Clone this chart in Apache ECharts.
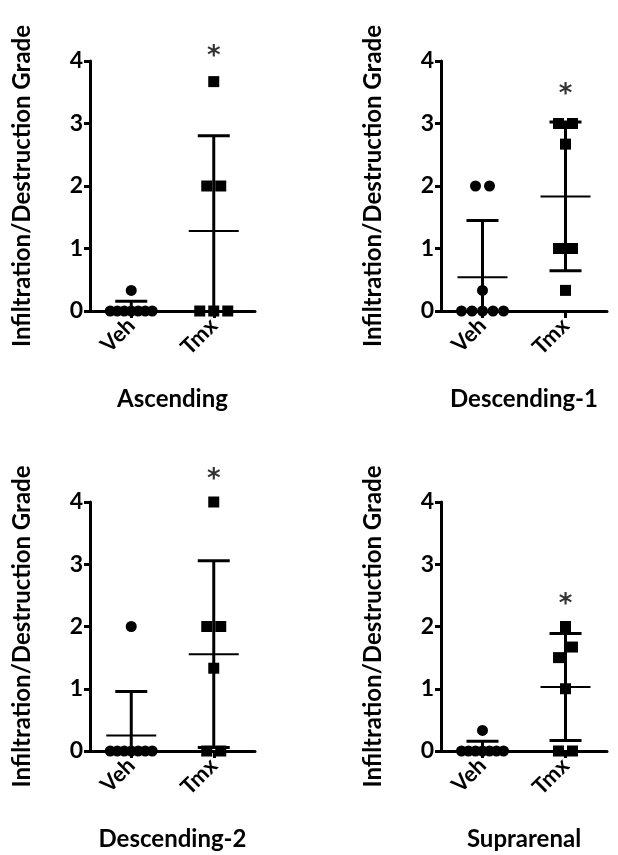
<!DOCTYPE html>
<html>
<head>
<meta charset="utf-8">
<script src="https://cdn.jsdelivr.net/npm/echarts@6/dist/echarts.min.js"></script>
<style>
html,body{margin:0;padding:0;background:#fff;}
#chart{width:618px;height:855px;}
</style>
</head>
<body>
<div id="chart"></div>
<script>
// ---- data ----
const categories = ['Veh', 'Tmx'];
const panelTitles = ['Ascending', 'Descending-1', 'Descending-2', 'Suprarenal'];
const yAxisTitle = 'Infiltration/Destruction Grade';
const yTicks = [0, 1, 2, 3, 4];

const vehAscending = [0, 0, 0, 0, 0, 0, 0, 0.33];
const tmxAscending = [3.67, 2, 2, 0, 0, 0];
const vehDescending1 = [2, 2, 0.33, 0, 0, 0, 0, 0];
const tmxDescending1 = [3, 3, 2.67, 1, 1, 0.33];
const vehDescending2 = [2, 0, 0, 0, 0, 0, 0, 0];
const tmxDescending2 = [4, 2, 2, 1.33, 0, 0];
const vehSuprarenal = [0.33, 0, 0, 0, 0, 0, 0, 0];
const tmxSuprarenal = [2, 1.67, 1.5, 1, 0, 0];
const starY = [4.18, 3.57, 4.46, 2.46];   // position of the significance asterisk

const vehGroups = [vehAscending, vehDescending1, vehDescending2, vehSuprarenal];
const tmxGroups = [tmxAscending, tmxDescending1, tmxDescending2, tmxSuprarenal];

// ---- layout ----
const grids = [
  {left: 90, top: 61, width: 165, height: 250},
  {left: 441, top: 61, width: 166, height: 250},
  {left: 90, top: 502, width: 165, height: 249},
  {left: 441, top: 502, width: 166, height: 249}
];
const FONT = 'Lato';

function mean(a) { return a.reduce((s, v) => s + v, 0) / a.length; }
function sd(a) {
  const m = mean(a);
  return Math.sqrt(a.reduce((s, v) => s + (v - m) * (v - m), 0) / (a.length - 1));
}

// beeswarm-like horizontal spread of coincident points
function swarm(values, catIndex, symbol) {
  const sorted = values.slice().sort((a, b) => a - b);
  const clusters = [];
  sorted.forEach(v => {
    const last = clusters[clusters.length - 1];
    if (last && Math.abs(v - last[last.length - 1]) < 0.2) last.push(v);
    else clusters.push([v]);
  });
  const items = [];
  clusters.forEach(c => {
    const n = c.length;
    const step = n > 1 ? Math.min(14, 42 / (n - 1)) : 0;
    c.forEach((v, i) => {
      items.push({
        value: [catIndex, v],
        symbol: symbol,
        symbolSize: 11,
        symbolOffset: [(i - (n - 1) / 2) * step, 0]
      });
    });
  });
  return items;
}

const option = {
  animation: false,
  backgroundColor: '#fff',
  grid: grids.map(g => Object.assign({containLabel: false}, g)),
  xAxis: grids.map((g, i) => ({
    type: 'category',
    gridIndex: i,
    data: categories,
    boundaryGap: true,
    name: panelTitles[i],
    nameLocation: 'middle',
    nameGap: 76,
    nameTextStyle: {fontFamily: FONT, fontWeight: 'bold', fontSize: 24, color: '#000'},
    axisLine: {show: true, lineStyle: {color: '#000', width: 3}},
    axisTick: {show: true, alignWithLabel: true, length: 7, lineStyle: {color: '#000', width: 3}},
    axisLabel: {rotate: 45, margin: 11, fontFamily: FONT, fontWeight: 'bold', fontSize: 22, color: '#000'},
    splitLine: {show: false}
  })),
  yAxis: grids.map((g, i) => ({
    type: 'value',
    gridIndex: i,
    min: yTicks[0],
    max: yTicks[yTicks.length - 1],
    interval: 1,
    name: yAxisTitle,
    nameLocation: 'middle',
    nameGap: 56,
    nameTextStyle: {fontFamily: FONT, fontWeight: 'bold', fontSize: 24, color: '#000'},
    axisLine: {show: true, lineStyle: {color: '#000', width: 3}},
    axisTick: {show: true, length: 6, lineStyle: {color: '#000', width: 3}},
    axisLabel: {margin: 7, fontFamily: FONT, fontWeight: 'bold', fontSize: 23, color: '#000'},
    splitLine: {show: false}
  })),
  series: []
};

grids.forEach((g, i) => {
  const veh = vehGroups[i], tmx = tmxGroups[i];
  option.series.push({
    type: 'scatter',
    xAxisIndex: i, yAxisIndex: i,
    clip: false,
    itemStyle: {color: '#000', opacity: 1},
    data: swarm(veh, 0, 'circle').concat(swarm(tmx, 1, 'rect')),
    z: 2
  });
  option.series.push({
    type: 'custom',
    xAxisIndex: i, yAxisIndex: i,
    clip: false,
    data: [[0, mean(veh), sd(veh)], [1, mean(tmx), sd(tmx)]],
    encode: {x: 0, y: 1},
    renderItem: function (params, api) {
      const c = api.value(0), m = api.value(1), s = api.value(2);
      const lo = Math.max(0, m - s), hi = m + s;
      const pm = api.coord([c, m]);
      const ph = api.coord([c, hi]);
      const pl = api.coord([c, lo]);
      const stroke = {stroke: '#000', lineWidth: 3};
      const children = [
        {type: 'line', shape: {x1: pm[0], y1: ph[1], x2: pm[0], y2: pl[1]}, style: stroke},
        {type: 'line', shape: {x1: pm[0] - 16, y1: ph[1], x2: pm[0] + 16, y2: ph[1]}, style: stroke},
        {type: 'line', shape: {x1: pm[0] - 25, y1: pm[1], x2: pm[0] + 25, y2: pm[1]}, style: {stroke: '#000', lineWidth: 2}}
      ];
      if (m - s > 0) {
        children.push({type: 'line', shape: {x1: pm[0] - 16, y1: pl[1], x2: pm[0] + 16, y2: pl[1]}, style: stroke});
      }
      return {type: 'group', children: children};
    },
    z: 3
  });
  option.series.push({
    type: 'scatter',
    xAxisIndex: i, yAxisIndex: i,
    clip: false,
    symbolSize: 1,
    itemStyle: {color: 'rgba(0,0,0,0)'},
    label: {
      show: true, position: 'inside', formatter: '*',
      fontFamily: 'DejaVu Sans', fontWeight: 'bold', fontSize: 26, color: '#000',
      offset: [0, 7]
    },
    data: [[1, starY[i]]],
    z: 4
  });
});

const chart = echarts.init(document.getElementById('chart'), null, {renderer: 'canvas'});
chart.setOption(option);
</script>
</body>
</html>
